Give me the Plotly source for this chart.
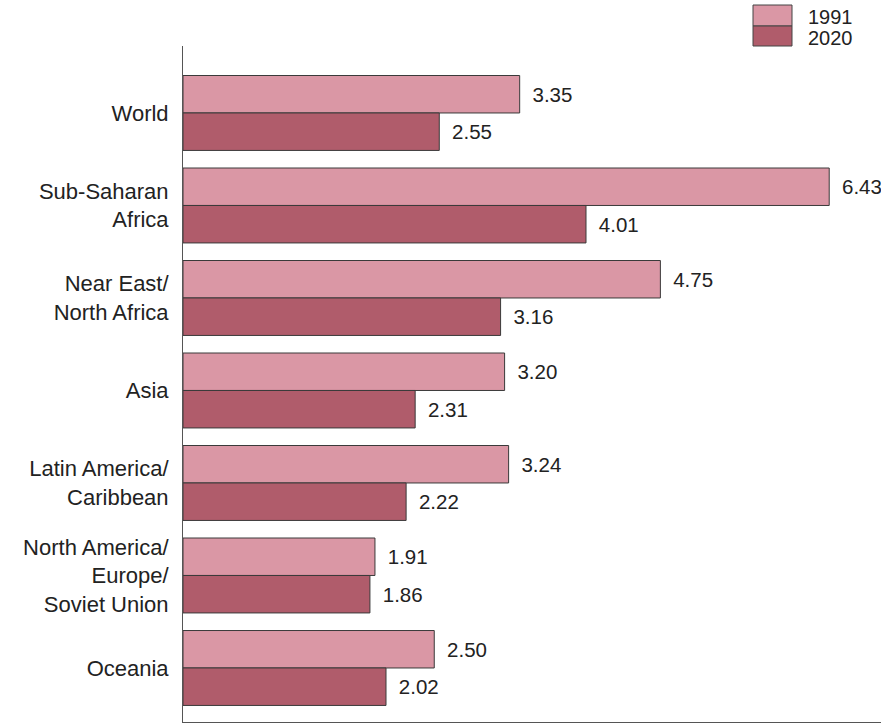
import plotly.graph_objects as go

categories = ["World", "Sub-Saharan<br>Africa", "Near East/<br>North Africa", "Asia",
              "Latin America/<br>Caribbean", "North America/<br>Europe/<br>Soviet Union", "Oceania"]
values_1991 = [3.35, 6.43, 4.75, 3.20, 3.24, 1.91, 2.50]
values_2020 = [2.55, 4.01, 3.16, 2.31, 2.22, 1.86, 2.02]
series_names = ["1991", "2020"]
colors = ["#da97a5", "#b05c6b"]

W, H = 881, 725
L, R, T, B = 183, 0, 46, 3
PW, PH = W - L - R, H - T - B
FONT = "Liberation Sans"

fig = go.Figure()
for name, vals, col in zip(series_names, [values_1991, values_2020], colors):
    fig.add_trace(go.Bar(
        y=categories, x=vals, orientation="h", name=name,
        marker=dict(color=col, line=dict(color="#3a3a3a", width=1)),
        text=[f" \u2009{v:.2f}" for v in vals], textposition="outside",
        textfont=dict(size=20.5, color="#222", family=FONT),
        cliponaxis=False,
    ))

def px(x):
    return (x - L) / PW

def py(y):
    return 1 - (y - T) / PH

shapes = []
annotations = []
box_x0, box_x1 = 753, 792
rows = [(5, 26), (26, 46)]
for (y0, y1), name, col in zip(rows, series_names, colors):
    shapes.append(dict(type="rect", xref="paper", yref="paper",
                       x0=px(box_x0), x1=px(box_x1), y0=py(y1), y1=py(y0),
                       fillcolor=col, line=dict(color="#444", width=1)))
    annotations.append(dict(xref="paper", yref="paper", x=px(806), y=py((y0 + y1) / 2 + 2),
                            text=name, showarrow=False, xanchor="left", yanchor="middle",
                            font=dict(size=20, color="#222", family=FONT)))

fig.update_layout(
    width=W, height=H,
    margin=dict(l=L, r=R, t=T, b=B),
    paper_bgcolor="white", plot_bgcolor="white",
    barmode="group", bargap=0.19, bargroupgap=0,
    showlegend=False,
    shapes=shapes, annotations=annotations,
    font=dict(family=FONT, size=22, color="#222"),
    xaxis=dict(range=[0, PW / 100.5], showgrid=False, zeroline=False, showticklabels=False,
               ticks="", showline=True, linecolor="#555", linewidth=1, fixedrange=True),
    yaxis=dict(range=[6.584, -0.724], showgrid=False, zeroline=False,
               showline=True, linecolor="#555", linewidth=1, ticks="",
               ticklabelstandoff=9,
               tickfont=dict(size=22, color="#222", family=FONT)),
)

fig.write_html("out.html")
